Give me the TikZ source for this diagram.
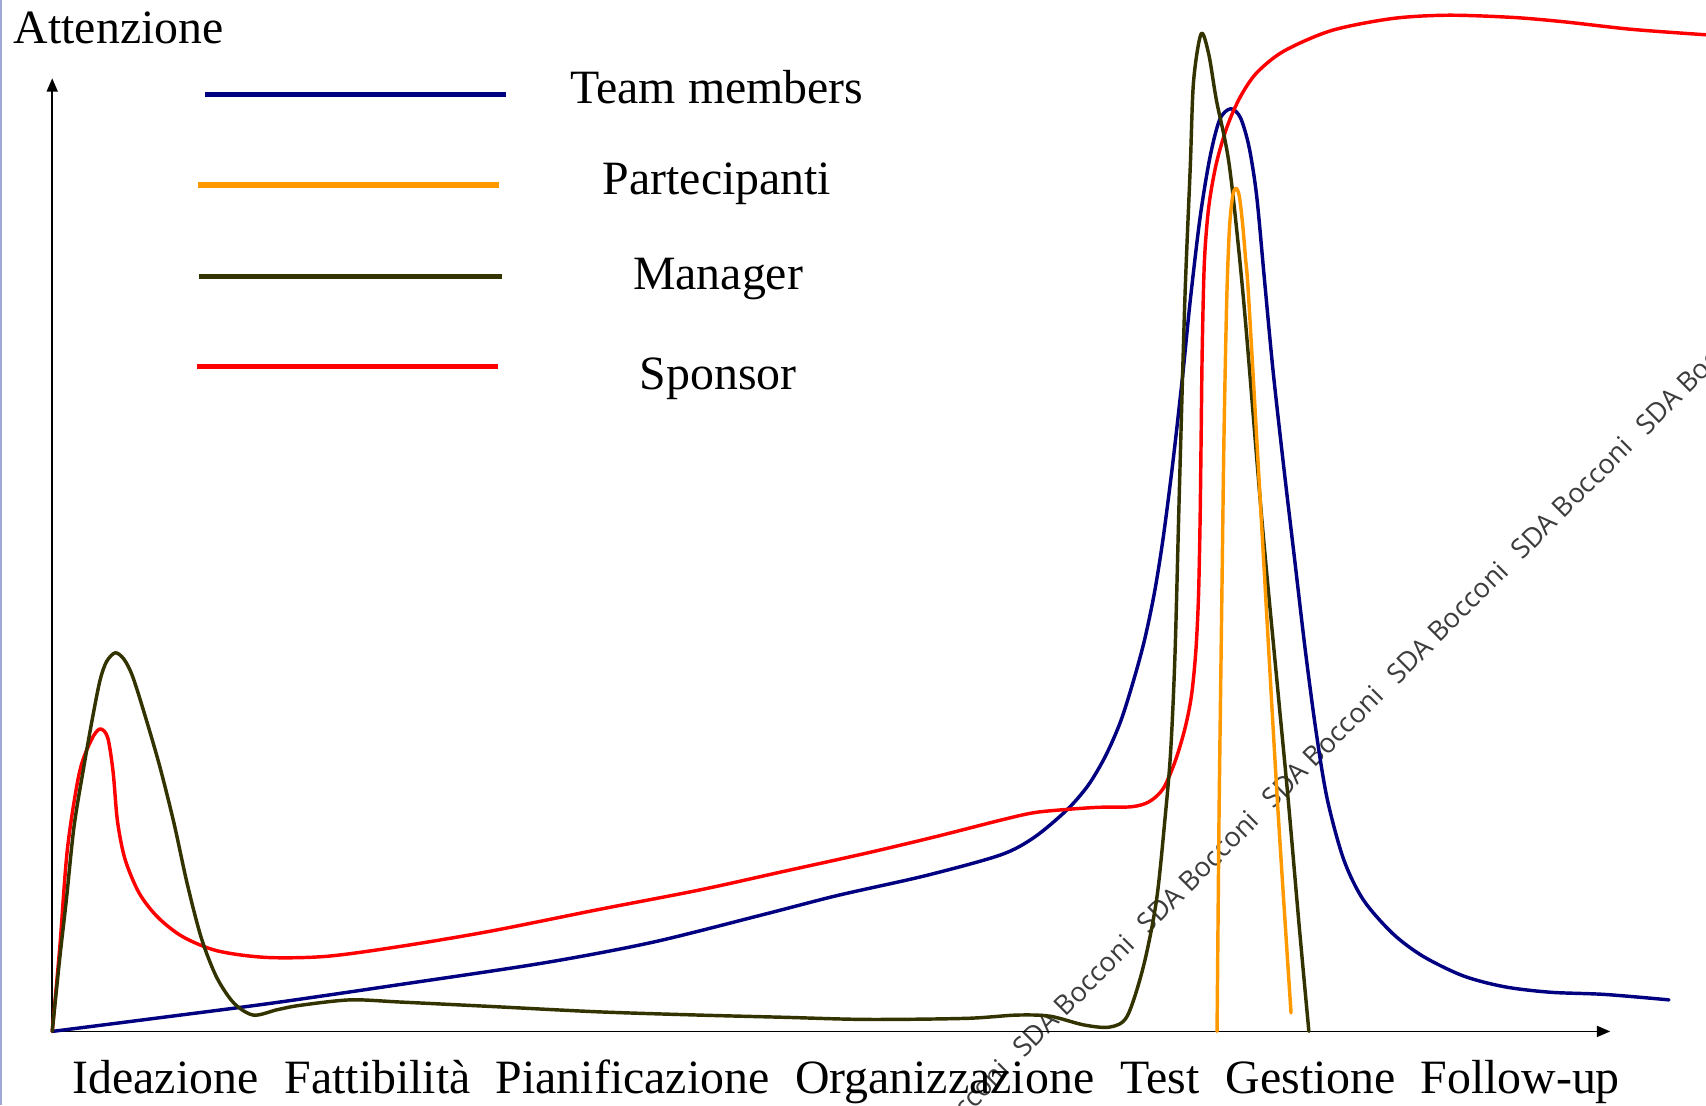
\documentclass[tikz,border=0pt]{standalone}
\usepackage{fontspec}
\setmainfont{Liberation Serif}
\newfontfamily\wmfont{Open Sans}
\usetikzlibrary{arrows.meta}
\definecolor{teamblue}{RGB}{0,0,128}
\definecolor{partorange}{RGB}{255,153,0}
\definecolor{mgrolive}{RGB}{51,51,0}
\definecolor{sponsred}{RGB}{255,0,0}
\definecolor{edgelav}{RGB}{160,168,216}
\definecolor{wmgrey}{RGB}{60,60,60}
\begin{document}
\begin{tikzpicture}[x=0.01cm,y=-0.01cm,
  lbl/.style={font=\fontsize{12.5}{15}\selectfont, inner sep=0pt},
  axisline/.style={line width=0.4pt, black, -{Triangle[length=3.5pt,width=2.9pt]}},
  curve/.style={line width=0.9pt, line join=round, line cap=round},
  legline/.style={line width=1.4pt},
  wm/.style={font=\wmfont\fontsize{7.1}{8.5}\selectfont, text=wmgrey, inner sep=0pt, rotate=45}]
\useasboundingbox (0,0) rectangle (1568,1016);
\fill[white] (0,0) rectangle (1568,1016);
\draw[edgelav, line width=0.6pt] (0.6,0) -- (0.6,1016);

% watermark
\begin{scope}
\clip (0,0) rectangle (1568,1016);
\foreach \k in {-2,...,4}{
  \node[wm] (wm\k) at ({1101+114.5*\k},{801-114.5*\k}) {SDA Bocconi};
}
\end{scope}

% axes
\coordinate (O) at (48,948);
\coordinate (ytip) at (48,72);
\coordinate (xtip) at (1480,948);
\draw[axisline] (O) -- (ytip);
\draw[axisline] (O) -- (xtip);

% title
\node[lbl, anchor=base west] (ylab) at (12,40) {Attenzione};

% legend
\coordinate (lb1) at (188,87);  \coordinate (lb2) at (465,87);
\coordinate (lo1) at (182,170); \coordinate (lo2) at (459,170);
\coordinate (lm1) at (183,254); \coordinate (lm2) at (461,254);
\coordinate (lr1) at (181,337); \coordinate (lr2) at (458,337);
\draw[legline, teamblue] (lb1) -- (lb2);
\draw[legline, partorange] (lo1) -- (lo2);
\draw[legline, mgrolive] (lm1) -- (lm2);
\draw[legline, sponsred] (lr1) -- (lr2);
\node[lbl, anchor=base] (lgTeam) at (659,95) {Team members};
\node[lbl, anchor=base] (lgPart) at (659,179) {Partecipanti};
\node[lbl, anchor=base] (lgMgr) at (660,266) {Manager};
\node[lbl, anchor=base] (lgSpo) at (660,358) {Sponsor};

% x labels
\node[lbl, anchor=base west] (p1) at (66,1005) {Ideazione};
\node[lbl, anchor=base west] (p2) at (261,1005) {Fattibilità};
\node[lbl, anchor=base west] (p3) at (455,1005) {Pianificazione};
\node[lbl, anchor=base west] (p4) at (730,1005) {Organizzazione};
\node[lbl, anchor=base west] (p5) at (1029,1005) {Test};
\node[lbl, anchor=base west] (p6) at (1126,1005) {Gestione};
\node[lbl, anchor=base west] (p7) at (1305,1005) {Follow-up};

% Team members (blue)
\draw[curve, teamblue] plot[smooth, tension=0.5] coordinates {
(48,948) (150,935) (250,922) (367,905) (500,885) (600,866) (700,841) (770,823)
(850,805) (919,786) (950,770) (980,745) (1000,722) (1016,695) (1030,663)
(1042,625) (1052,588) (1061,545) (1069,495) (1078,425) (1087,345) (1094,276)
(1103,200) (1112,145) (1121,110) (1131,100) (1140,108) (1148,135) (1155,180)
(1162,255) (1170,340) (1180,430) (1190,515) (1200,600) (1210,675) (1220,735)
(1235,790) (1253,827) (1280,858) (1308,879) (1345,897) (1383,907) (1425,912)
(1475,914) (1534,919)};

% Sponsor (red)
\draw[curve, sponsred] plot[smooth, tension=0.5] coordinates {
(48,948) (55,870) (62,780) (73,710) (84,680) (92,670) (99,678) (104,710) (108,755)
(115,790) (128,821) (145,843) (168,861) (200,874) (245,880) (300,879) (367,870)
(450,856) (550,836) (643,818) (720,801) (797,784) (860,769) (919,754) (950,747)
(980,744) (1010,742) (1040,741.5) (1056,737) (1069,725) (1080,700) (1089,670)
(1095,640) (1099,600) (1101.5,550) (1103,480) (1104,400) (1105,320) (1107,240)
(1111,190) (1118,150) (1128,116) (1140,89) (1155,67) (1180,47) (1224,28)
(1280,17) (1331,14) (1390,16) (1437,20) (1500,27) (1568,32)};

% Manager (olive)
\draw[curve, mgrolive] plot[smooth, tension=0.5] coordinates {
(48,948) (55,880) (61,827) (68,760) (77,705) (85,660) (92,625) (98,608) (106,600)
(114,606) (122,622) (134,660) (147,705) (160,757) (172,812) (185,862) (199,898)
(215,922) (233,933) (255,928) (276,924) (322,919) (368,921) (450,925) (550,930)
(643,933) (720,935) (797,937) (888,936) (934,933) (965,934) (996,942) (1020,944)
(1036,934) (1051,888) (1063,827) (1071,750) (1076,690) (1080,600) (1084,450)
(1089,276) (1094,153) (1097,75) (1104,31) (1111,50) (1118,92) (1130,153)
(1143,276) (1160,480) (1175,640) (1184,735) (1194,850) (1203,948)};

% Partecipanti (orange)
\draw[curve, partorange] plot[smooth, tension=0.5] coordinates {
(1118.6,948) (1119.5,850) (1120.6,735) (1123,550) (1125,400) (1127.5,276)
(1130,210) (1133,180) (1136,173) (1139,180) (1142,205) (1145,240) (1147.8,276)
(1160,490) (1174,735) (1186.6,931)};
\end{tikzpicture}
\end{document}
